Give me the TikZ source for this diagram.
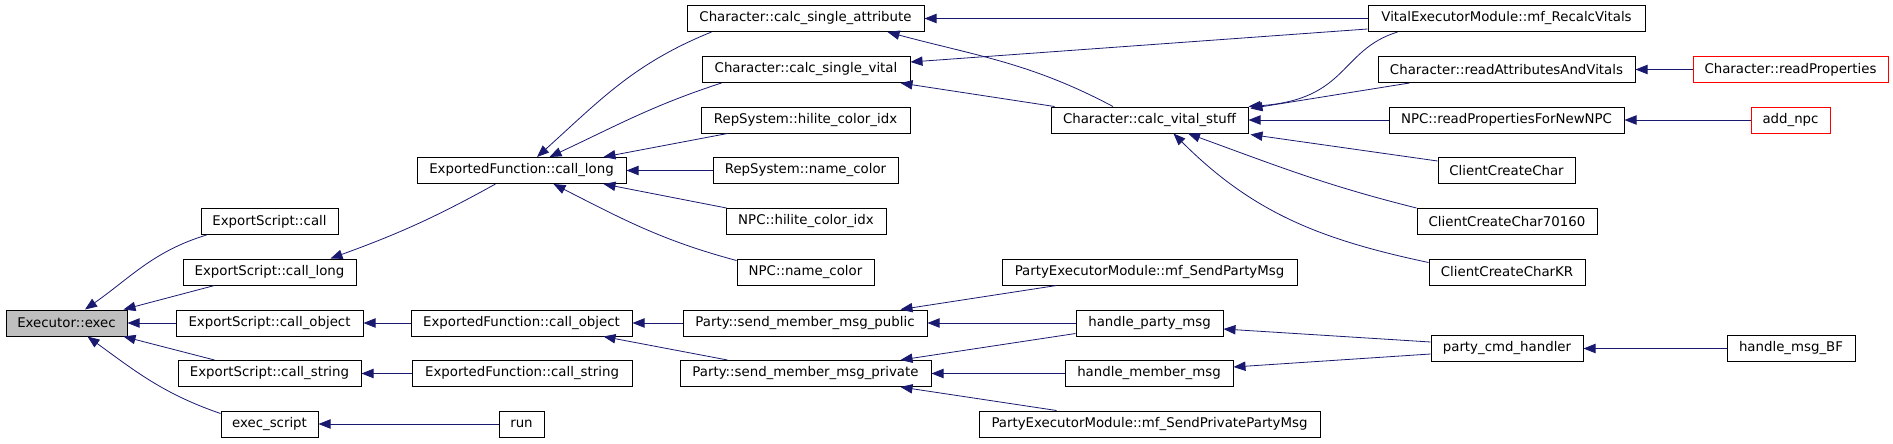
\documentclass[tikz,border=0pt]{standalone}
\usepackage{fontspec}
\setmainfont{DejaVu Sans}
\usetikzlibrary{arrows.meta,calc}
\definecolor{edgeblue}{HTML}{191970}
\definecolor{execgray}{HTML}{BFBFBF}
\tikzset{
	fn/.style={draw=black, line width=0.75pt, minimum height=19.5pt, inner sep=0pt,
		font=\fontsize{10}{12}\selectfont},
	redfn/.style={fn, draw=red},
	call/.style={draw=edgeblue, line width=0.6pt, -{Triangle[length=9pt,width=7pt]}}
}
\begin{document}
\begin{tikzpicture}[x=0.75pt,y=-0.75pt]
	\useasboundingbox (0,0) rectangle (1893,443);
	%nodes
	\node[fn, fill=execgray, minimum width=121*0.75pt] (exec) at (66.5,323) {Executor::exec};
	\foreach \n/\x/\y/\w/\txt in {
		escall/269.5/221.5/137/ExportScript::call,
		eslong/269.5/272/173/ExportScript::call\_long,
		esobj/269.5/323/187/ExportScript::call\_object,
		esstr/269.5/373.5/183/ExportScript::call\_string,
		execscript/269.5/424/97/exec\_script,
		eflong/521.5/170.5/209/ExportedFunction::call\_long,
		efobj/521.5/323/221/ExportedFunction::call\_object,
		efstr/522/373.5/220/ExportedFunction::call\_string,
		run/521.5/424/45/run,
		csattr/805.5/18.5/237/Character::calc\_single\_attribute,
		csvital/806/69.5/208/Character::calc\_single\_vital,
		rshilite/805.5/120/209/RepSystem::hilite\_color\_idx,
		rsname/805.5/170.5/185/RepSystem::name\_color,
		npchilite/806/221.5/160/NPC::hilite\_color\_idx,
		npcname/805.5/272/137/NPC::name\_color,
		pubmsg/805/323/244/Party::send\_member\_msg\_public,
		privmsg/805.5/373.5/251/Party::send\_member\_msg\_private,
		cvstuff/1149.5/120/197/Character::calc\_vital\_stuff,
		pemparty/1149.5/272/295/PartyExecutorModule::mf\_SendPartyMsg,
		hparty/1149.5/323/147/handle\_party\_msg,
		hmember/1149/373.5/168/handle\_member\_msg,
		pemprivate/1149.5/424/341/PartyExecutorModule::mf\_SendPrivatePartyMsg,
		recalc/1506.5/18.5/277/VitalExecutorModule::mf\_RecalcVitals,
		readattr/1506.5/69.5/257/Character::readAttributesAndVitals,
		readnpc/1506.5/120/235/NPC::readPropertiesForNewNPC,
		ccc/1506.5/170.5/137/ClientCreateChar,
		ccc70160/1507/221.5/180/ClientCreateChar70160,
		ccckr/1507/272/156/ClientCreateCharKR,
		partycmd/1507/348.5/152/party\_cmd\_handler,
		msgbf/1791/348.5/128/handle\_msg\_BF}
	\node[fn, minimum width=\w*0.75pt] (\n) at (\x,\y) {\txt};
	\node[redfn, minimum width=195*0.75pt] (readprop) at (1790.5,69.5) {Character::readProperties};
	\node[redfn, minimum width=79*0.75pt] (addnpc) at (1790.5,120) {add\_npc};
	
	%callers of exec
	\draw[call] ($(escall.south west)+(6,0)$) to[out=197,in=35] ($(exec.north)+(18.5,0)$);
	\draw[call] ($(eslong.south west)+(32,0)$) -- ($(exec.north east)+(-4,0)$);
	\draw[call] (esobj) -- (exec);
	\draw[call] ($(esstr.north west)+(37,0)$) -- ($(exec.south east)+(-4,0)$);
	\draw[call] ($(execscript.north west)+(0,3)$) to[out=161,in=-36] ($(exec.south)+(21,0)$);
	%second column
	\draw[call] ($(eflong.south west)+(79,0)$) to[out=209,in=20] ($(eslong.north east)+(-26,0)$);
	\draw[call] (efobj) -- (esobj);
	\draw[call] (efstr) -- (esstr);
	\draw[call] (run) -- (execscript);
	%callers of call_long
	\draw[call] ($(csattr.south west)+(25,0)$) to[out=202,in=42] ($(eflong.north)+(15.5,0)$);
	\draw[call] ($(csvital.south west)+(20,0)$) to[out=198,in=25] ($(eflong.north)+(28,0)$);
	\draw[call] ($(rshilite.south west)+(27,0)$) -- ($(eflong.north east)+(-23,0)$);
	\draw[call] (rsname) -- (eflong);
	\draw[call] ($(npchilite.north west)+(1,0)$) -- ($(eflong.south east)+(-23,0)$);
	\draw[call] ($(npcname.north west)+(0,2)$) to[out=165,in=-27] ($(eflong.south)+(32,0)$);
	%callers of call_object
	\draw[call] (pubmsg) -- (efobj);
	\draw[call] ($(privmsg.north west)+(48,0)$) -- ($(efobj.south east)+(-29,0)$);
	%character
	\draw[call] (recalc) -- (csattr);
	\draw[call] ($(recalc.south west)+(0,-3)$) -- ($(csvital.east)+(0,-7.5)$);
	\draw[call] ($(cvstuff.north)+(-36.5,0)$) to[out=152,in=-15] ($(csattr.south east)+(-37,0)$);
	\draw[call] ($(cvstuff.north west)+(4,0)$) -- ($(csvital.south east)+(-10,0)$);
	\draw[call] ($(recalc.south west)+(30,0)$) .. controls +(-58,18) and +(100,-7) .. (cvstuff.north east);
	\draw[call] ($(readattr.south west)+(32,0)$) -- ($(cvstuff.north east)+(2,2)$);
	\draw[call] (readnpc) -- (cvstuff);
	\draw[call] ($(ccc.north west)+(0,4)$) -- ($(cvstuff.south east)+(2,1)$);
	\draw[call] (ccc70160.north west) to[out=166,in=-20] ($(cvstuff.south)+(38.5,0)$);
	\draw[call] ($(ccckr.north west)+(0,4)$) to[out=168,in=-45] ($(cvstuff.south)+(24,0)$);
	\draw[call] (readprop) -- (readattr);
	\draw[call] (addnpc) -- (readnpc);
	%party
	\draw[call] ($(pemparty.south west)+(55,0)$) -- ($(pubmsg.north east)+(-27,0)$);
	\draw[call] (hparty) -- (pubmsg);
	\draw[call] ($(hparty.south west)+(0,-3)$) -- ($(privmsg.north east)+(-31,0)$);
	\draw[call] (hmember) -- (privmsg);
	\draw[call] ($(pemprivate.north west)+(78,0)$) -- ($(privmsg.south east)+(-31,0)$);
	\draw[call] ($(partycmd.west)+(0,-6.5)$) -- ($(hparty.east)+(0,6)$);
	\draw[call] ($(partycmd.west)+(0,5.5)$) -- ($(hmember.east)+(0,-6.5)$);
	\draw[call] (msgbf) -- (partycmd);
\end{tikzpicture}
\end{document}
